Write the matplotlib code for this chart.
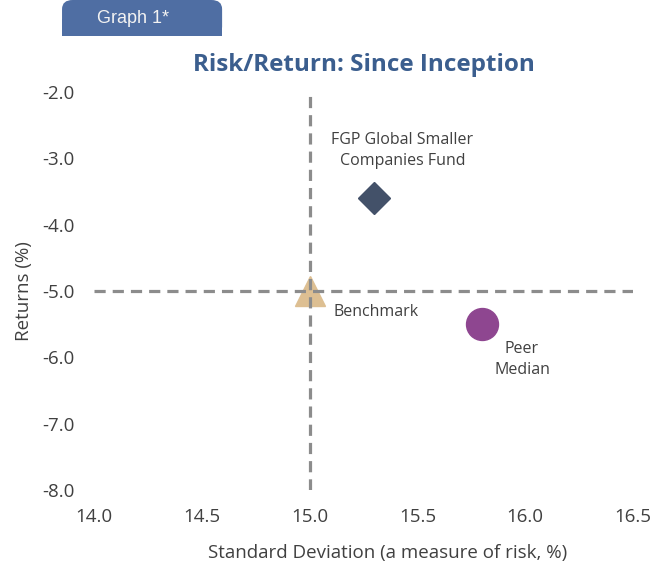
import matplotlib.pyplot as plt
from matplotlib.patches import FancyBboxPatch, Rectangle

# data
names = ["FGP Global Smaller\nCompanies Fund", "Benchmark", "Peer\nMedian"]
risk = [15.3, 15.0, 15.8]
returns = [-3.6, -5.0, -5.5]
markers = ["D", "^", "o"]
sizes = [16, 22, 23]
colors = ["#435169", "#DDBF92", "#8E4690"]
label_pos = [(15.43, -2.88), (15.11, -5.31), (15.985, -6.03)]
label_ha = ["center", "left", "center"]

x_ticks = [14.0, 14.5, 15.0, 15.5, 16.0, 16.5]
y_ticks = [-2.0, -3.0, -4.0, -5.0, -6.0, -7.0, -8.0]

plt.rcParams['font.family'] = ['Open Sans', 'DejaVu Sans']
txt = "#404040"

fig = plt.figure(figsize=(6.67, 5.69), dpi=100)
ax = fig.add_axes([0.141, 0.139, 0.808, 0.699])

for i in range(len(names)):
    ax.plot(risk[i], returns[i], marker=markers[i], markersize=sizes[i],
            color=colors[i], linestyle="none", zorder=2)
    ax.text(label_pos[i][0], label_pos[i][1], names[i], ha=label_ha[i],
            va="center", fontsize=11.5, color=txt, linespacing=1.4)

# crosshair through the benchmark
ax.axvline(risk[1], color="#8C8C8C", lw=2.3, ls=(0, (3.5, 2.2)), zorder=3)
ax.axhline(returns[1], color="#8C8C8C", lw=2.3, ls=(0, (3.5, 2.2)), zorder=3)

ax.set_xlim(14.0, 16.5)
ax.set_ylim(-8.0, -2.0)
ax.set_xticks(x_ticks)
ax.set_yticks(y_ticks)
ax.set_xticklabels([f"{v:.1f}" for v in x_ticks])
ax.set_yticklabels([f"{v:.1f}" for v in y_ticks])
ax.tick_params(length=0, labelsize=13.5, colors=txt)
ax.tick_params(axis="x", pad=13)
ax.tick_params(axis="y", pad=37)
for s in ax.spines.values():
    s.set_visible(False)
for lab in ax.get_yticklabels():
    lab.set_horizontalalignment("left")

ax.set_xlabel("Standard Deviation (a measure of risk, %)", fontsize=13.5,
              color=txt, va="center")
ax.xaxis.set_label_coords(0.545, -0.158)
ax.set_ylabel("Returns (%)", fontsize=13.5, color=txt, labelpad=7)

fig.text(0.545, 0.885, "Risk/Return: Since Inception", ha="center",
         va="center", fontsize=17.5, fontweight="bold", color="#3B5E8E")

# tab in the top-left corner: rounded top, square bottom
tab = FancyBboxPatch((0.093, 0.937), 0.24, 0.063, transform=fig.transFigure,
                     boxstyle="round,pad=0,rounding_size=0.016",
                     facecolor="#4F6EA3", edgecolor="none")
tab_base = Rectangle((0.093, 0.937), 0.24, 0.03, transform=fig.transFigure,
                     facecolor="#4F6EA3", edgecolor="none")
fig.patches.extend([tab, tab_base])
fig.text(0.2, 0.967, "Graph 1*", ha="center", va="center", fontsize=13,
         color="#F2F2F2", family=["Liberation Sans", "DejaVu Sans"])

fig.savefig("out.png", dpi=100)
